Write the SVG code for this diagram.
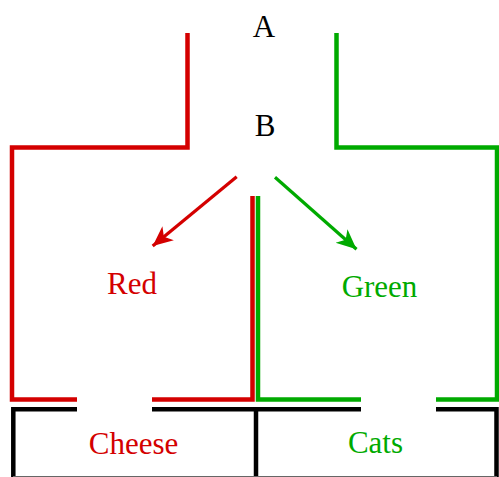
<svg xmlns="http://www.w3.org/2000/svg" width="499" height="477" viewBox="0 0 499 477">
<style>
.r{stroke:#d40000;}
.g{stroke:#00aa00;}
.k{stroke:#000;}
.w{fill:none;stroke-width:4.5;stroke-linecap:butt;stroke-linejoin:miter;}
.a{fill:none;stroke-width:3.2;}
text{font-family:"Liberation Serif","Times New Roman",serif;font-size:31px;text-anchor:middle;}
.tr{fill:#d40000;}
.tg{fill:#00aa00;}
.tk{fill:#000;}
</style>
<defs>
<marker id="mr" markerUnits="userSpaceOnUse" markerWidth="22" markerHeight="22" viewBox="0 0 22 22" refX="20" refY="11" orient="auto">
<path d="M20,11 L0,2 L5.5,11 L0,20 Z" fill="#d40000"/>
</marker>
<marker id="mg" markerUnits="userSpaceOnUse" markerWidth="22" markerHeight="22" viewBox="0 0 22 22" refX="20" refY="11" orient="auto">
<path d="M20,11 L0,2 L5.5,11 L0,20 Z" fill="#00aa00"/>
</marker>
</defs>
<rect width="499" height="477" fill="#fff"/>
<g id="walls">
<path class="w r" d="M187.5,33 V147.5 H12 V399.5 H77"/>
<path class="w r" d="M152,399.5 H252.5 V196"/>
<path class="w g" d="M336.5,33 V147.5 H497 V399.5 H436"/>
<path class="w g" d="M361,399.5 H258 V196"/>
<path class="w k" d="M77,409.3 H13.3 V477"/>
<path class="w k" d="M152,409.3 H361"/>
<path class="w k" d="M436,409.3 H496.5 V477"/>
<path class="w k" d="M256,409.3 V477"/>
<path d="M13,476.5 H497" stroke="#666" stroke-width="1"/>
</g>
<g id="connectors">
<path class="a r" d="M236.7,176.7 L152.7,246" marker-end="url(#mr)"/>
<path class="a g" d="M275,177.3 L356.5,249.3" marker-end="url(#mg)"/>
</g>
<g id="node-A"><text class="tk" x="264" y="36.5">A</text></g>
<g id="node-B"><text class="tk" x="265" y="136">B</text></g>
<g id="node-Red"><text class="tr" x="132" y="294">Red</text></g>
<g id="node-Green"><text class="tg" x="379.5" y="296.5">Green</text></g>
<g id="node-Cheese"><text class="tr" x="133.5" y="454">Cheese</text></g>
<g id="node-Cats"><text class="tg" x="375.5" y="452.5">Cats</text></g>
</svg>
